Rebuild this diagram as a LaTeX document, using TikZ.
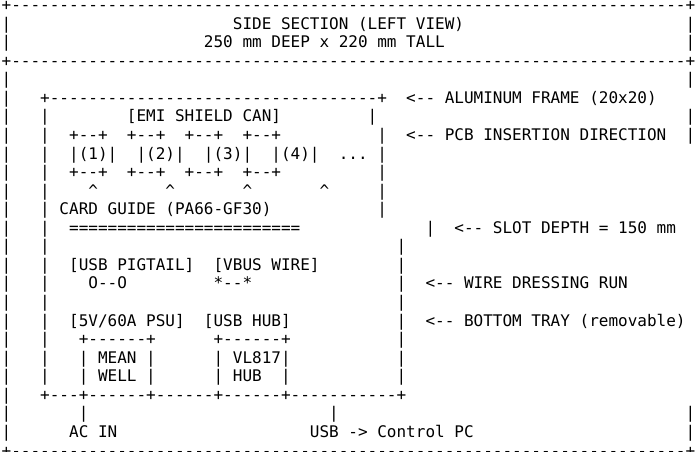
\documentclass[tikz,border=0pt]{standalone}
\usepackage{fontspec}
\newfontfamily\asciifont{DejaVu Sans Mono}
\newcounter{cellno}
\tikzset{asciitext/.style={inner sep=0pt,outer sep=0pt,anchor=base west,font=\asciifont\fontsize{12pt}{14pt}\selectfont,text=black}}
\newcommand{\cell}[3]{\stepcounter{cellno}\node[asciitext] (t\arabic{cellno}) at ({#2*9.632+1.7},{#1*18.56+10.6}) {#3};}
\newcommand{\bars}[2]{\foreach \rowno in {#1}{\foreach \colno in {#2}{\stepcounter{cellno}\node[asciitext] (b\rowno-\colno) at ({\colno*9.632+1.7},{\rowno*18.56+10.6}) {|};}}}
\begin{document}
\begin{tikzpicture}[x=0.75pt,y=-0.75pt]
\useasboundingbox[fill=white] (0,0) rectangle (696,452);
% outer frame
\cell{0}{0}{+----------------------------------------------------------------------+}
\cell{3}{0}{+----------------------------------------------------------------------+}
\cell{24}{0}{+----------------------------------------------------------------------+}
\bars{1,2,4,5,6,7,8,9,10,11,12,13,14,15,16,17,18,19,20,21,22,23}{0}
\bars{1,2,4,6,7,22,23}{71}
% title
\cell{1}{24}{SIDE SECTION (LEFT VIEW)}
\cell{2}{21}{250 mm DEEP x 220 mm TALL}
% aluminum frame
\cell{5}{4}{+----------------------------------+}
\cell{5}{42}{<-- ALUMINUM FRAME (20x20)}
\bars{6,7,8,9,10,11,12,13,14,15,16,17,18,19,20}{4}
\cell{6}{13}{[EMI SHIELD CAN]}
\bars{6}{38}
\bars{7,8,9,10,11}{39}
\cell{7}{42}{<-- PCB INSERTION DIRECTION}
% cards
\cell{7}{7}{+--+}\cell{7}{13}{+--+}\cell{7}{19}{+--+}\cell{7}{25}{+--+}
\cell{8}{7}{|(1)|}\cell{8}{14}{|(2)|}\cell{8}{21}{|(3)|}\cell{8}{28}{|(4)|}
\cell{8}{35}{...}
\cell{9}{7}{+--+}\cell{9}{13}{+--+}\cell{9}{19}{+--+}\cell{9}{25}{+--+}
\cell{10}{9}{\textasciicircum}\cell{10}{17}{\textasciicircum}\cell{10}{25}{\textasciicircum}\cell{10}{33}{\textasciicircum}
% card guide
\cell{11}{6}{CARD GUIDE (PA66-GF30)}
\cell{12}{7}{========================}
\bars{12}{44}
\cell{12}{47}{<--  SLOT DEPTH = 150 mm}
% wires
\bars{13,14,15,16,17,18,19,20}{41}
\cell{14}{7}{[USB PIGTAIL]}
\cell{14}{22}{[VBUS WIRE]}
\cell{15}{9}{O--O}
\cell{15}{22}{*--*}
\cell{15}{44}{<-- WIRE DRESSING RUN}
% tray
\cell{17}{7}{[5V/60A PSU]}
\cell{17}{21}{[USB HUB]}
\cell{17}{44}{<-- BOTTOM TRAY (removable)}
\cell{18}{8}{+------+}
\cell{18}{22}{+------+}
\bars{19,20}{8,15,22,29}
\cell{19}{10}{MEAN}
\cell{20}{10}{WELL}
\cell{19}{24}{VL817}
\cell{20}{24}{HUB}
\cell{21}{4}{+---+------+------+------+-----------+}
% exits
\bars{22}{8,34}
\cell{23}{7}{AC IN}
\cell{23}{32}{USB -> Control PC}
\end{tikzpicture}
\end{document}
